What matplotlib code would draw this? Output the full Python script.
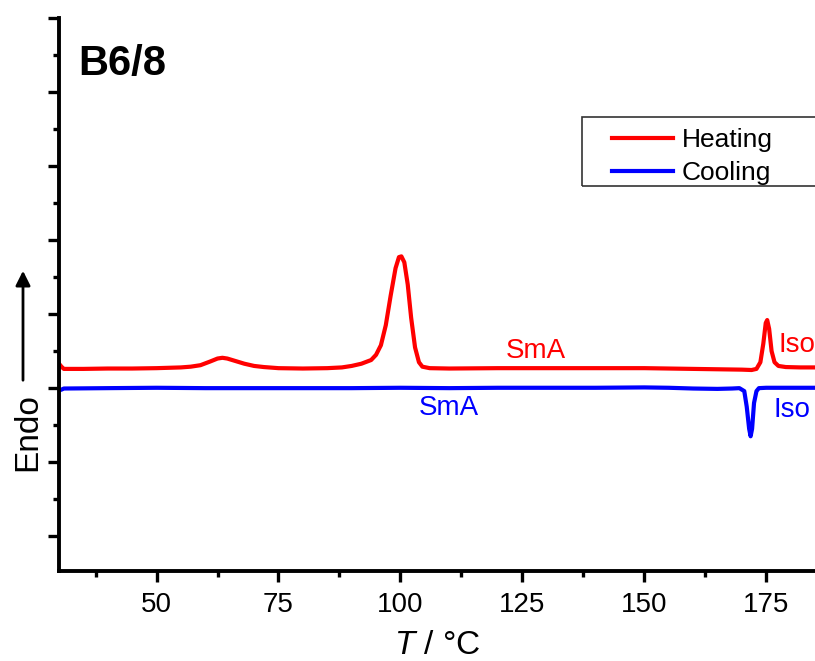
import numpy as np
import matplotlib
matplotlib.use('Agg')
import matplotlib.pyplot as plt
from matplotlib.patches import Rectangle

plt.rcParams['font.family'] = ['Liberation Sans', 'DejaVu Sans']
plt.rcParams['mathtext.fontset'] = 'custom'
plt.rcParams['mathtext.rm'] = 'Liberation Sans'
plt.rcParams['mathtext.it'] = 'Liberation Sans:italic'

# heating trace (T in degC, offset heat flow, arbitrary units)
heat_T = [30.0, 30.5, 31, 35, 40, 45, 50, 55, 57, 59, 61, 62.5, 63.5, 64.5, 66, 68, 70,
          72, 75, 80, 85, 88, 90, 92, 94, 95, 96, 97, 98, 99, 99.7, 100.2, 100.8, 101.5,
          102.2, 103, 103.8, 104.5, 106, 110, 120, 130, 140, 150, 160, 170, 172, 173,
          173.8, 174.4, 174.9, 175.2, 175.6, 176.1, 176.7, 177.5, 179, 182, 185]
heat_val = [2.33, 2.29, 2.26, 2.26, 2.265, 2.265, 2.27, 2.28, 2.29, 2.31, 2.36, 2.40, 2.41,
            2.40, 2.37, 2.33, 2.30, 2.285, 2.27, 2.265, 2.27, 2.28, 2.30, 2.33, 2.38, 2.45,
            2.58, 2.85, 3.25, 3.62, 3.77, 3.78, 3.70, 3.40, 2.95, 2.55, 2.35, 2.29, 2.27,
            2.265, 2.27, 2.27, 2.27, 2.27, 2.26, 2.25, 2.245, 2.26, 2.35, 2.60, 2.88, 2.92,
            2.80, 2.50, 2.35, 2.30, 2.285, 2.28, 2.28]

# cooling trace
cool_T = [30.0, 30.5, 31, 40, 50, 60, 70, 80, 90, 100, 110, 120, 130, 140, 150, 155, 160,
          165, 168, 169.5, 170.5, 171.0, 171.5, 171.8, 172.1, 172.5, 173, 173.5, 175, 180, 185]
cool_val = [1.97, 1.98, 1.995, 2.0, 2.005, 2.0, 2.0, 2.0, 2.0, 2.005, 2.0, 2.005, 2.005,
            2.005, 2.01, 2.005, 1.995, 1.99, 1.995, 2.0, 1.96, 1.75, 1.45, 1.35, 1.45, 1.80,
            1.96, 2.0, 2.005, 2.005, 2.005]

fig = plt.figure(figsize=(8.15, 6.61), dpi=100)
ax = fig.add_axes([59 / 815, 90 / 661, 756 / 815, 553 / 661])

ax.plot(heat_T, heat_val, color='#ff0000', lw=3, label='Heating')
ax.plot(cool_T, cool_val, color='#0000ff', lw=3, label='Cooling')

ax.set_xlim(30, 185)
ax.set_ylim(-0.47, 7)
ax.set_xticks([50, 75, 100, 125, 150, 175])
ax.set_xticks(np.arange(37.5, 185, 25), minor=True)
ax.set_yticks(range(8))
ax.set_yticks(np.arange(0.5, 7, 1), minor=True)
ax.set_yticklabels([])

for s in ['top', 'right']:
    ax.spines[s].set_visible(False)
for s in ['left', 'bottom']:
    ax.spines[s].set_linewidth(2.8)
ax.tick_params(which='major', length=8, width=2.4, direction='out', labelsize=20, pad=7)
ax.tick_params(which='minor', length=4, width=2.4, direction='out')

ax.set_xlabel(r'$T$ / °C', fontsize=24, labelpad=9)

# phase labels
ax.text(121.6, 2.5, 'SmA', color='#ff0000', fontsize=20, va='center', ha='left')
ax.text(177.6, 2.58, 'Iso', color='#ff0000', fontsize=20, va='center', ha='left')
ax.text(110, 1.73, 'SmA', color='#0000ff', fontsize=20, va='center', ha='center')
ax.text(176.4, 1.70, 'Iso', color='#0000ff', fontsize=20, va='center', ha='left')

ax.text(0.025, 0.897, 'B6/8', transform=ax.transAxes, fontsize=30,
        fontweight='bold', va='baseline', ha='left')

# Endo label with arrow
fig.text(0.0337, 0.3457, 'Endo', rotation=90, fontsize=24, ha='center', va='center')
ax.annotate('', xy=(23 / 815, 1 - 268 / 661), xytext=(23 / 815, 1 - 383 / 661),
            xycoords='figure fraction', textcoords='figure fraction',
            arrowprops=dict(arrowstyle='-|>', lw=2, color='black', mutation_scale=22))

# legend
ax.legend(loc='upper left', bbox_to_anchor=(612 / 815, 0.8064),
          bbox_transform=fig.transFigure, frameon=False, fontsize=19,
          borderpad=0, borderaxespad=0, handlelength=2.3, handletextpad=0.35,
          labelspacing=0.34)
fig.patches.append(Rectangle((582 / 815, 1 - 186 / 661), 260 / 815, 69 / 661,
                             transform=fig.transFigure, fill=False, lw=1.2,
                             edgecolor='#333333'))

fig.savefig('out.png', dpi=100)
